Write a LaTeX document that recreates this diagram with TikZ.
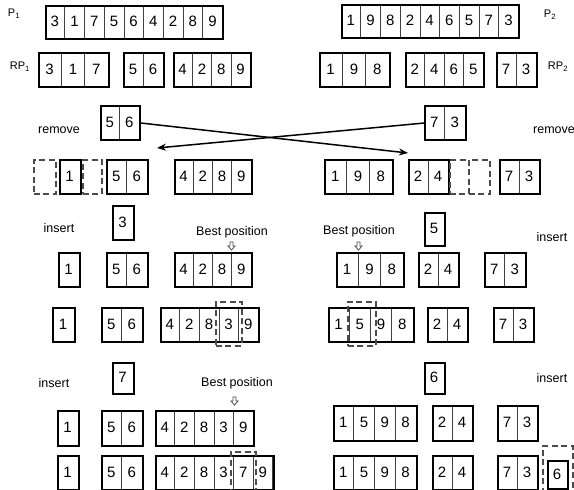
\documentclass[tikz,border=0pt]{standalone}
\usepackage{fontspec}
\setmainfont{Liberation Sans}
\usetikzlibrary{arrows.meta}

\tikzset{
  cell/.style={draw=black!75, line width=0.6pt, inner sep=0pt,
    font=\fontsize{15}{17}\selectfont},
  outer/.style={draw=black, line width=2.1pt, inner sep=0pt},
  gap/.style={draw=black!70, dash pattern=on 6pt off 3.5pt, line width=1.9pt,
    inner sep=0pt, anchor=north west},
  lbl/.style={font=\fontsize{12.5}{14}\selectfont, inner sep=0pt},
  move/.style={line width=1.5pt, -{Stealth[length=9pt, width=7pt]}},
  hollow/.style={draw=black!70, line width=0.8pt, fill=white}
}

% block of cells: name, left, top, cell width, height, number of cells, digits
\newcommand{\blk}[7]{%
  \foreach \d [count=\i] in {#7}
    \node[cell, minimum width=#4, minimum height=#5] (#1-\i) at ({#2+(\i-0.5)*#4}, {#3+#5/2}) {\d};
  \node[outer, minimum width=#6*#4, minimum height=#5, anchor=north west] (#1) at (#2,#3) {};
}
% small arrow above the best position
\newcommand{\bestmark}[3]{%
  \coordinate (#1) at (#2,#3);
  \draw[hollow] (#1) -- ++(-3.5,-4) -- ++(2,0) -- ++(0,-4) -- ++(3,0) -- ++(0,4) -- ++(2,0) -- cycle;
}

\begin{document}
\begin{tikzpicture}[x=1pt, y=-1pt]
  \useasboundingbox (0,0) rectangle (574,490);

  % parents
  \node[lbl, font=\fontsize{11}{13}\selectfont] (lp1) at (14,14) {P\textsubscript{1}};
  \node[lbl, font=\fontsize{11}{13}\selectfont] (lp2) at (550,15) {P\textsubscript{2}};
  \blk{p1}{45}{5}{19.7}{33}{9}{3,1,7,5,6,4,2,8,9}
  \blk{p2}{341}{4}{19.7}{33}{9}{1,9,8,2,4,6,5,7,3}

  % routes
  \node[lbl, font=\fontsize{11}{13}\selectfont] (lrp1) at (20,67) {RP\textsubscript{1}};
  \node[lbl, font=\fontsize{11}{13}\selectfont] (lrp2) at (558,67) {RP\textsubscript{2}};
  \blk{rpa}{38}{52}{23.3}{34}{3}{3,1,7}
  \blk{rpb}{123}{52}{20}{34}{2}{5,6}
  \blk{rpc}{173}{52}{19.3}{34}{4}{4,2,8,9}
  \blk{rqa}{319}{52}{23.3}{34}{3}{1,9,8}
  \blk{rqb}{405}{52}{19.5}{34}{4}{2,4,6,5}
  \blk{rqc}{496}{52}{20}{34}{2}{7,3}

  % remove
  \node[lbl] (rm1) at (59,130) {remove};
  \node[lbl, anchor=west] (rm2) at (533,130) {remove};
  \blk{mva}{100}{105}{19.5}{34}{2}{5,6}
  \blk{mvb}{424}{105}{20.5}{34}{2}{7,3}
  \coordinate (to24) at (408,153);
  \coordinate (to1) at (157,148);
  \draw[move] (mva.east) -- (to24);
  \draw[move] (mvb.west) -- (to1);

  \node[gap, minimum width=22, minimum height=34] (g1) at (33,159) {};
  \blk{ca}{59}{159}{21}{34}{1}{1}
  \node[gap, minimum width=19, minimum height=34] (g2) at (82,159) {};
  \blk{cb}{106}{159}{20.5}{34}{2}{5,6}
  \blk{cc}{174}{159}{19.25}{34}{4}{4,2,8,9}
  \blk{da}{324}{159}{22.7}{34}{3}{1,9,8}
  \blk{db}{408}{159}{20}{34}{2}{2,4}
  \node[gap, minimum width=19.5, minimum height=34] (g3) at (449,159) {};
  \node[gap, minimum width=21, minimum height=34] (g4) at (468,159) {};
  \blk{dc}{499}{159}{20}{34}{2}{7,3}

  % first insertion
  \node[lbl] (in1) at (59,228) {insert};
  \node[lbl] (in2) at (552,237) {insert};
  \blk{ins3}{112}{205}{21}{34}{1}{3}
  \blk{ins5}{424}{212}{20}{33}{1}{5}
  \node[lbl] (bp1t) at (232,232) {Best position};
  \node[lbl] (bp2t) at (359,231) {Best position};
  \bestmark{bp1}{231.5}{250}
  \bestmark{bp2}{358.5}{250}

  \blk{ea}{58}{252}{21}{34}{1}{1}
  \blk{eb}{106}{252}{20.5}{34}{2}{5,6}
  \blk{ec}{174}{252}{19.25}{34}{4}{4,2,8,9}
  \blk{fa}{336}{252}{22.3}{34}{3}{1,9,8}
  \blk{fb}{418}{252}{20}{34}{2}{2,4}
  \blk{fc}{484}{252}{20.5}{34}{2}{7,3}

  \blk{ga}{52}{307}{22}{34}{1}{1}
  \blk{gb}{101}{307}{20.5}{34}{2}{5,6}
  \blk{gc}{160}{307}{19.6}{34}{5}{4,2,8,3,9}
  \node[gap, minimum width=26, minimum height=44] (g5) at (215,301) {};
  \blk{ha}{328}{307}{21.25}{34}{4}{1,5,9,8}
  \node[gap, minimum width=28, minimum height=44] (g6) at (347,301) {};
  \blk{hb}{427}{307}{20}{34}{2}{2,4}
  \blk{hc}{493}{307}{20}{34}{2}{7,3}

  % second insertion
  \node[lbl] (in3) at (54,383) {insert};
  \node[lbl] (in4) at (552,378) {insert};
  \blk{ins7}{112}{362}{21}{31}{1}{7}
  \blk{ins6}{424}{362}{20}{31}{1}{6}
  \node[lbl] (bp3t) at (237,383) {Best position};
  \bestmark{bp3}{234.5}{405}

  \blk{ka}{57}{410}{21}{35}{1}{1}
  \blk{kb}{101}{410}{20.5}{35}{2}{5,6}
  \blk{kc}{155}{410}{19.6}{35}{5}{4,2,8,3,9}
  \blk{la}{333}{405}{20.75}{35}{4}{1,5,9,8}
  \blk{lb}{432}{405}{20}{35}{2}{2,4}
  \blk{lc}{497}{405}{20}{35}{2}{7,3}

  \blk{ma}{57}{455}{21}{34}{1}{1}
  \blk{mb}{101}{455}{20.5}{34}{2}{5,6}
  \blk{mc}{155}{455}{19.6}{34}{6}{4,2,8,3,7,9}
  \node[gap, minimum width=25, minimum height=46] (g7) at (230,451) {};
  \blk{na}{333}{455}{20.75}{34}{4}{1,5,9,8}
  \blk{nb}{432}{455}{20}{34}{2}{2,4}
  \blk{nc}{497}{455}{20}{34}{2}{7,3}
  \node[gap, minimum width=30, minimum height=50] (g8) at (542,445) {};
  \blk{nd}{547}{460}{20}{28}{1}{6}
\end{tikzpicture}
\end{document}
